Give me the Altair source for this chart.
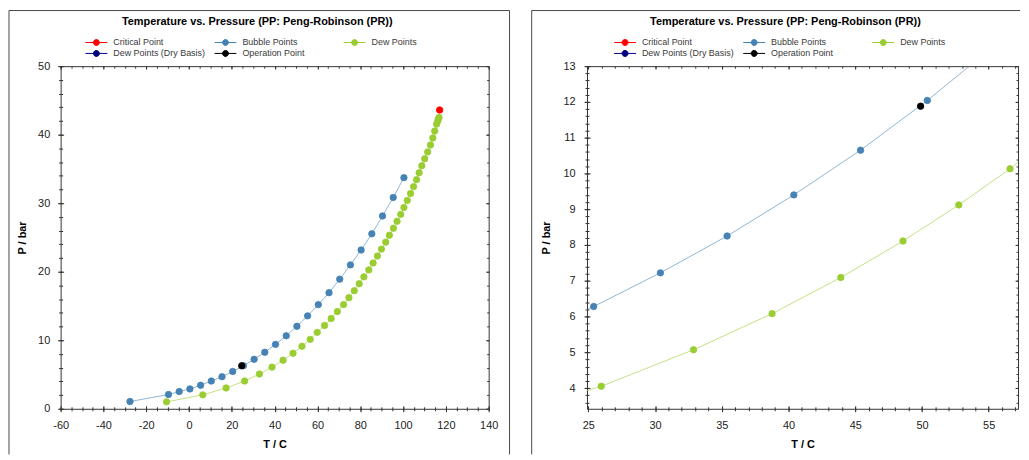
import altair as alt
import pandas as pd
import numpy as np

FONT = "Liberation Sans"

# ---------------- data ----------------
bubble_T = [-27.6, -9.6, -4.6, 0.4, 5.4, 10.4, 15.4, 20.4, 25.4, 30.4, 35.4, 40.4,
            45.4, 50.4, 55.4, 60.4, 65.4, 70.4, 75.4, 80.4, 85.4, 90.4, 95.4, 100.4]
bubble_P = [1.06, 2.08, 2.51, 2.90, 3.43, 4.05, 4.68, 5.45, 6.28, 7.22, 8.25, 9.40,
            10.65, 12.04, 13.56, 15.20, 16.94, 18.92, 21.00, 23.17, 25.53, 28.14, 30.84, 33.73]

dew_T = [-10.5, 6.4, 17.3, 25.97, 32.88, 38.77, 43.92, 48.58, 52.76, 56.6, 59.9, 63.3,
         66.4, 69.3, 72.2, 74.7, 77.2, 79.5, 81.7, 84.0, 86.0, 88.0, 89.9, 91.9, 93.6,
         95.5, 97.2, 98.9, 100.4, 101.95, 103.5, 104.9, 106.3, 107.5, 108.75, 110.1,
         111.5, 112.8, 113.9, 114.8, 115.7, 116.2, 116.5, 116.8]
dew_P = [1.01, 2.03, 3.04, 4.05, 5.07, 6.08, 7.09, 8.11, 9.12, 10.13, 11.15, 12.16,
         13.17, 14.19, 15.20, 16.21, 17.23, 18.24, 19.25, 20.27, 21.28, 22.29, 23.30,
         24.32, 25.33, 26.34, 27.36, 28.37, 29.38, 30.40, 31.41, 32.42, 33.44, 34.45,
         35.46, 36.48, 37.49, 38.50, 39.52, 40.53, 41.54, 42.0, 42.3, 42.5]

critical_T = [117.1]
critical_P = [43.6]

op_left_T = [24.6]
op_left_P = [6.27]
op_right_T = [49.9]
op_right_P = [11.88]

series_names = ["Critical Point", "Bubble Points", "Dew Points",
                "Dew Points (Dry Basis)", "Operation Point"]
series_colors = ["#ff0000", "#4682b4", "#9acd32", "#000080", "#000000"]

TITLE = "Temperature vs. Pressure (PP: Peng-Robinson (PR))"

# axis tick positions
left_x_major = list(range(-60, 141, 20))
left_x_minor = list(range(-60, 141, 5))
left_y_major = list(range(0, 51, 10))
left_y_minor = list(range(0, 51, 2))
right_x_major = list(range(25, 56, 5))
right_x_minor = list(range(25, 58, 1))
right_y_major = list(range(4, 14, 1))
right_y_minor = [round(v, 1) for v in np.arange(3.6, 13.01, 0.2)]

LEGEND_SYMBOL = ("M-2,0L2,0M-0.545,0A0.545,0.545,0,1,1,0.545,0"
                 "A0.545,0.545,0,1,1,-0.545,0Z")


def make_df(T, P, name):
    return pd.DataFrame({"T": T, "P": P, "series": name})


def panel(op_T, op_P, xdom, ydom, W, H, xmaj, xmin, ymaj, ymin,
          ylabpad, ytitlepad, frame_left, frame_right, leg_x, title_dx):
    df = pd.concat([
        make_df(bubble_T, bubble_P, "Bubble Points"),
        make_df(dew_T, dew_P, "Dew Points"),
        make_df(critical_T, critical_P, "Critical Point"),
        make_df(op_T, op_P, "Operation Point"),
    ], ignore_index=True)

    cs = alt.Scale(domain=series_names, range=series_colors)
    legend = alt.Legend(
        orient="none", legendX=leg_x, legendY=-29.8, columns=3, direction="horizontal",
        gridAlign="all", columnPadding=7, rowPadding=0, padding=0, title=None,
        symbolType=LEGEND_SYMBOL, symbolSize=121, symbolStrokeWidth=1, symbolOpacity=1,
        labelFont=FONT, labelFontSize=9, labelColor="#3a3a3a", labelOffset=11,
        labelLimit=200,
    )
    xs = alt.Scale(domain=xdom, nice=False, zero=False)
    ys = alt.Scale(domain=ydom, nice=False, zero=False)

    lab_expr = "datum.value < 0 ? '-' + abs(datum.value) : '' + datum.value"

    ax_x_main = alt.Axis(orient="bottom", offset=-3, tickSize=6, domain=False, grid=False,
                         values=xmaj, labelExpr=lab_expr, labelPadding=8, labelFlush=False,
                         labelOverlap=False, labelFont=FONT, labelFontSize=11, labelColor="#222",
                         tickColor="#333", tickWidth=1, title="T / C", titleFont=FONT,
                         titleFontSize=11, titleFontWeight="bold", titleColor="#000",
                         titlePadding=8)
    ax_x_min = alt.Axis(orient="bottom", offset=-2, tickSize=4, domain=False, grid=False,
                        values=xmin, labels=False, tickColor="#333", title=None)
    ax_x_top = alt.Axis(orient="top", offset=-3, tickSize=3, domain=False, grid=False,
                        values=xmaj, labels=False, tickColor="#333", title=None)
    ax_x_topmin = alt.Axis(orient="top", offset=-2, tickSize=2, domain=False, grid=False,
                           values=xmin, labels=False, tickColor="#333", title=None)

    ax_y_main = alt.Axis(orient="left", offset=-3, tickSize=6, domain=False, grid=False,
                         values=ymaj, labelExpr=lab_expr, labelPadding=ylabpad, labelFlush=False,
                         labelOverlap=False, labelFont=FONT, labelFontSize=11, labelColor="#222",
                         tickColor="#333", tickWidth=1, title="P / bar", titleFont=FONT,
                         titleFontSize=11, titleFontWeight="bold", titleColor="#000",
                         titlePadding=ytitlepad)
    ax_y_min = alt.Axis(orient="left", offset=-2, tickSize=4, domain=False, grid=False,
                        values=ymin, labels=False, tickColor="#333", title=None)
    ax_y_right = alt.Axis(orient="right", offset=-3, tickSize=3, domain=False, grid=False,
                          values=ymaj, labels=False, tickColor="#333", title=None)
    ax_y_rightmin = alt.Axis(orient="right", offset=-2, tickSize=2, domain=False, grid=False,
                             values=ymin, labels=False, tickColor="#333", title=None)

    def enc_xy(ax, ay):
        return dict(x=alt.X("T:Q", scale=xs, axis=ax), y=alt.Y("P:Q", scale=ys, axis=ay))

    def pts(name, ax, ay):
        return alt.Chart(df).transform_filter(alt.datum.series == name).mark_point(
            filled=True, size=42, strokeWidth=0.8, opacity=1, clip=True
        ).encode(
            **enc_xy(ax, ay),
            color=alt.Color("series:N", scale=cs, legend=legend),
            stroke=alt.Stroke("series:N", scale=cs, legend=legend),
        )

    def line(name, ax, ay):
        return alt.Chart(df).transform_filter(alt.datum.series == name).mark_line(
            strokeWidth=1, opacity=0.6, clip=True
        ).encode(
            **enc_xy(ax, ay),
            color=alt.Color("series:N", scale=cs, legend=legend),
        )

    one = pd.DataFrame({"k": [0]})
    frame_color = "#4a4a4a"
    FT, FB = -56, 391
    frames = [
        alt.Chart(one).mark_rule(color=frame_color, strokeWidth=1).encode(
            x=alt.value(frame_left), y=alt.value(FT), y2=alt.value(FB)),
        alt.Chart(one).mark_rule(color=frame_color, strokeWidth=1).encode(
            x=alt.value(frame_left), x2=alt.value(frame_right if frame_right is not None else W + 2),
            y=alt.value(FT)),
    ]
    if frame_right is not None:
        frames.append(alt.Chart(one).mark_rule(color=frame_color, strokeWidth=1).encode(
            x=alt.value(frame_right), y=alt.value(FT), y2=alt.value(FB)))

    layers = [
        line("Dew Points", ax_x_main, ax_y_main),
        line("Bubble Points", ax_x_min, ax_y_min),
        pts("Dew Points", ax_x_top, ax_y_right),
        pts("Bubble Points", ax_x_topmin, ax_y_rightmin),
        pts("Operation Point", None, None),
        pts("Critical Point", None, None),
    ] + frames

    return alt.layer(*layers).resolve_axis(x="independent", y="independent").properties(
        width=W, height=H,
        title=alt.TitleParams(TITLE, font=FONT, fontSize=11, fontWeight="bold", color="#000",
                              anchor="middle", frame="group", dx=title_dx, offset=-28.5,
                              baseline="bottom"),
    )


left = panel(op_left_T, op_left_P, [-60, 140], [0, 50], 431, 345,
             left_x_major, left_x_minor, left_y_major, left_y_minor,
             ylabpad=8, ytitlepad=10, frame_left=-52, frame_right=452,
             leg_x=30, title_dx=-17.5)
right = panel(op_right_T, op_right_P, [24.9, 57.2], [3.42, 13], 434, 345,
              right_x_major, right_x_minor, right_y_major, right_y_minor,
              ylabpad=9, ytitlepad=12, frame_left=-55.7, frame_right=None,
              leg_x=32.3, title_dx=-17.2)

chart = alt.hconcat(left, right, spacing=20).resolve_scale(
    color="independent", stroke="independent"
).resolve_legend(
    color="independent", stroke="independent"
).properties(
    padding=0, background="white"
).configure_view(stroke="#333", strokeWidth=1)

chart.save("out.html", embed_options={"renderer": "svg", "actions": False})
